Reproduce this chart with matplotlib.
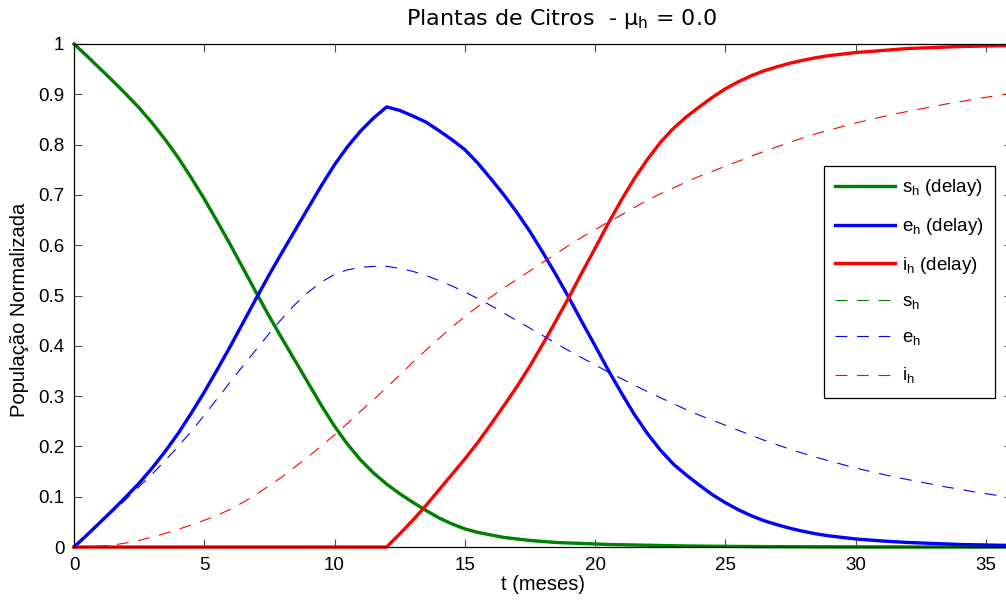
import numpy as np
import matplotlib
matplotlib.use('Agg')
import matplotlib.pyplot as plt

plt.rcParams['font.family'] = ['Liberation Sans', 'DejaVu Sans']
plt.rcParams['mathtext.fontset'] = 'custom'
plt.rcParams['mathtext.rm'] = 'Liberation Sans'
plt.rcParams['lines.scale_dashes'] = False

# tempo em meses (passo de meio mes)
t = np.arange(0, 36.5, 0.5)

# modelo com atraso (delay)
s_delay = [1.0, 0.976, 0.951, 0.926, 0.90, 0.873, 0.843, 0.81, 0.774, 0.734,
           0.692, 0.647, 0.601, 0.553, 0.505, 0.458, 0.413, 0.369, 0.325, 0.281,
           0.240, 0.204, 0.173, 0.147, 0.125, 0.106, 0.089, 0.073, 0.058, 0.046,
           0.036, 0.029, 0.024, 0.019, 0.016, 0.013, 0.011, 0.009, 0.008, 0.007,
           0.006, 0.005, 0.0045, 0.004, 0.0035, 0.003, 0.0025, 0.002, 0.0018, 0.0015,
           0.0013, 0.0011, 0.001, 0.0008, 0.0007, 0.0006, 0.0005, 0.0004, 0.0004, 0.0003,
           0.0003, 0.0002, 0.0002, 0.0002, 0.0001, 0.0001, 0.0001, 0.0001, 0.0001, 0.0,
           0.0, 0.0, 0.0]
e_delay = [0.0, 0.024, 0.049, 0.074, 0.10, 0.127, 0.157, 0.19, 0.226, 0.266,
           0.308, 0.353, 0.399, 0.447, 0.495, 0.542, 0.587, 0.631, 0.675, 0.719,
           0.76, 0.796, 0.827, 0.853, 0.875, 0.868, 0.857, 0.845, 0.828, 0.81,
           0.79, 0.763, 0.732, 0.70, 0.665, 0.627, 0.585, 0.541, 0.495, 0.447,
           0.40, 0.352, 0.307, 0.264, 0.226, 0.193, 0.165, 0.143, 0.123, 0.104,
           0.088, 0.074, 0.062, 0.052, 0.044, 0.037, 0.031, 0.026, 0.022, 0.019,
           0.016, 0.014, 0.012, 0.0105, 0.009, 0.008, 0.007, 0.006, 0.005, 0.0045,
           0.004, 0.0035, 0.003]
i_delay = [0.0] * 25 + [0.026, 0.053, 0.082, 0.113, 0.144,
           0.175, 0.208, 0.244, 0.281, 0.319, 0.36, 0.404, 0.45, 0.497, 0.546,
           0.594, 0.643, 0.689, 0.732, 0.770, 0.804, 0.832, 0.855, 0.875, 0.894,
           0.911, 0.925, 0.937, 0.947, 0.955, 0.962, 0.968, 0.973, 0.977, 0.98,
           0.983, 0.985, 0.987, 0.989, 0.991, 0.992, 0.993, 0.994, 0.995, 0.9955,
           0.996, 0.9965, 0.997]

# modelo sem atraso
s_sem = list(s_delay)
e_sem = [0.0, 0.024, 0.048, 0.071, 0.095, 0.12, 0.145, 0.172, 0.20, 0.23,
         0.262, 0.295, 0.328, 0.361, 0.393, 0.425, 0.455, 0.483, 0.507, 0.527,
         0.542, 0.551, 0.556, 0.558, 0.558, 0.554, 0.548, 0.54, 0.53, 0.519,
         0.507, 0.494, 0.48, 0.465, 0.45, 0.435, 0.42, 0.405, 0.39, 0.376,
         0.362, 0.348, 0.335, 0.322, 0.309, 0.297, 0.285, 0.273, 0.262, 0.252,
         0.242, 0.232, 0.222, 0.212, 0.203, 0.194, 0.186, 0.178, 0.171, 0.164,
         0.157, 0.151, 0.145, 0.139, 0.134, 0.129, 0.124, 0.119, 0.115, 0.11,
         0.106, 0.102, 0.098]
i_sem = [0.0, 0.0005, 0.002, 0.004, 0.008, 0.013, 0.02, 0.027, 0.035, 0.044,
         0.053, 0.063, 0.075, 0.089, 0.105, 0.122, 0.14, 0.16, 0.18, 0.201,
         0.223, 0.246, 0.27, 0.293, 0.317, 0.342, 0.367, 0.391, 0.414, 0.437,
         0.458, 0.478, 0.497, 0.515, 0.532, 0.549, 0.566, 0.583, 0.6, 0.616,
         0.631, 0.646, 0.66, 0.675, 0.689, 0.702, 0.714, 0.726, 0.737, 0.747,
         0.757, 0.767, 0.777, 0.787, 0.796, 0.805, 0.814, 0.822, 0.829, 0.836,
         0.843, 0.849, 0.855, 0.861, 0.866, 0.871, 0.876, 0.881, 0.885, 0.89,
         0.894, 0.898, 0.902]

verde = (0, 0.5, 0)
azul = (0, 0, 1)
vermelho = (1, 0, 0)

fig = plt.figure(figsize=(10.06, 6.03), dpi=100)
ax = fig.add_axes([74/1006, 56/603, 938/1006, 503/603])

lw, lwd = 2.4, 0.8
tracos = (8.5, 7)
l4, = ax.plot(t, s_sem, '--', color=verde, lw=lwd, dashes=tracos, label=r's$_\mathregular{h}$')
l1, = ax.plot(t, s_delay, color=verde, lw=lw, label=r's$_\mathregular{h}$ (delay)', clip_on=False)
l2, = ax.plot(t, e_delay, color=azul, lw=lw, label=r'e$_\mathregular{h}$ (delay)', clip_on=False)
l3, = ax.plot(t, i_delay, color=vermelho, lw=lw, label=r'i$_\mathregular{h}$ (delay)', clip_on=False)
l5, = ax.plot(t, e_sem, '--', color=azul, lw=lwd, dashes=tracos, label=r'e$_\mathregular{h}$')
l6, = ax.plot(t, i_sem, '--', color=vermelho, lw=lwd, dashes=tracos, label=r'i$_\mathregular{h}$')

ax.set_xlim(0, 36)
ax.set_ylim(0, 1)
ax.set_xticks(np.arange(0, 36, 5))
ax.set_yticks(np.arange(0, 1.01, 0.1))
ax.set_yticklabels(['0', '0.1', '0.2', '0.3', '0.4', '0.5', '0.6', '0.7', '0.8', '0.9', '1'])
ax.tick_params(direction='in', length=6, width=0.8, color='0.3', labelsize=13.5,
               top=True, right=True, pad=7)
for sp in ax.spines.values():
    sp.set_linewidth(0.9)

fig.text(543/1006, 1 - 585/603, 't (meses)', ha='center', va='center', fontsize=14.5)
fig.text(20/1006, 1 - 310/603, 'População Normalizada', ha='center', va='center',
         rotation=90, fontsize=14.5)
fig.text(561/1006, 1 - 19/603, r'Plantas de Citros  - μ$_\mathregular{h}$ = 0.0',
         ha='center', va='center', fontsize=16, family='DejaVu Sans',
         math_fontfamily='dejavusans')

ordem = [l1, l2, l3, l4, l5, l6]
leg = ax.legend(ordem, [h.get_label() for h in ordem],
                loc='upper left', bbox_to_anchor=(824/1006, 1 - 166/603),
                bbox_transform=fig.transFigure, fancybox=False, framealpha=1,
                edgecolor='black', fontsize=13.5, handlelength=3.2,
                handletextpad=0.35, labelspacing=0.95, borderaxespad=0, borderpad=0.6)
leg.get_frame().set_linewidth(0.9)

fig.savefig('out.png', dpi=100)
